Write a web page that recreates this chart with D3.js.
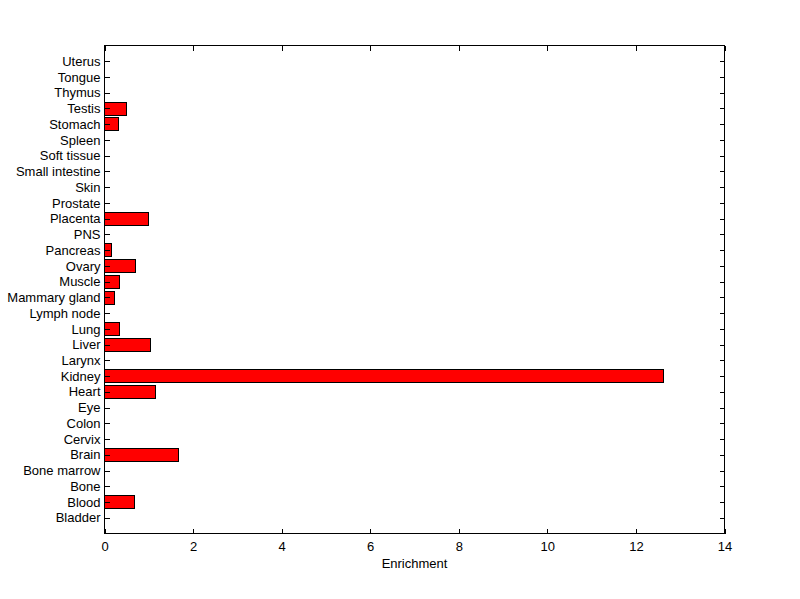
<!DOCTYPE html>
<html>
<head>
<meta charset="utf-8">
<script src="https://cdn.jsdelivr.net/npm/d3@7"></script>
<style>
  body { margin: 0; background: #fff; }
  text { font-family: "Liberation Sans", Arial, sans-serif; font-size: 13px; fill: #000; }
</style>
</head>
<body>
<div id="chart"></div>
<script>
// tissues, bottom to top
const tissues = ["Bladder", "Blood", "Bone", "Bone marrow", "Brain", "Cervix", "Colon", "Eye",
  "Heart", "Kidney", "Larynx", "Liver", "Lung", "Lymph node", "Mammary gland", "Muscle",
  "Ovary", "Pancreas", "PNS", "Placenta", "Prostate", "Skin", "Small intestine",
  "Soft tissue", "Spleen", "Stomach", "Testis", "Thymus", "Tongue", "Uterus"];
const enrichment = [0, 0.68, 0, 0, 1.68, 0, 0, 0,
  1.15, 12.62, 0, 1.04, 0.34, 0, 0.235, 0.34,
  0.71, 0.16, 0, 0.99, 0, 0, 0,
  0, 0, 0.32, 0.50, 0, 0, 0];
const xTicks = [0, 2, 4, 6, 8, 10, 12, 14];

var width = 800, height = 599;
var margin = { top: 45, right: 76, bottom: 66, left: 104 };
var w = width - margin.left - margin.right,
    h = height - margin.top - margin.bottom;

var svg = d3.select("#chart").append("svg")
    .attr("width", width).attr("height", height)
    .attr("shape-rendering", "crispEdges");
var g = svg.append("g")
    .attr("transform", "translate(" + (margin.left + 0.5) + "," + (margin.top + 0.5) + ")");

var x = d3.scaleLinear().domain([0, 14]).range([0, w]);
// MATLAB style: categories at 1..n, axis padded by one each side
var y = d3.scaleLinear().domain([0, tissues.length + 1]).range([h, 0]);
var step = y(0) - y(1);
var barH = step * 0.8;

// bars
g.selectAll("rect.bar")
  .data(tissues)
  .enter()
  .append("rect")
  .attr("class", "bar")
  .attr("x", x(0))
  .attr("y", function(d, i) { return Math.round(y(i + 1) - barH / 2); })
  .attr("width", function(d, i) { return Math.round(x(enrichment[i]) - x(0)); })
  .attr("height", Math.round(barH))
  .style("fill", "#ff0000")
  .style("stroke", "#000")
  .style("stroke-width", 1)
  .style("display", function(d, i) { return enrichment[i] > 0 ? null : "none"; });

// axes
var yIdx = tissues.map(function(d, i) { return i + 1; });
g.append("g")
  .call(d3.axisLeft(y).tickValues(yIdx).tickFormat(function(d) { return tissues[d - 1]; })
    .tickSize(-5).tickPadding(4))
  .call(function(a) { a.select(".domain").remove(); });
g.append("g")
  .attr("transform", "translate(" + w + ",0)")
  .call(d3.axisRight(y).tickValues(yIdx).tickFormat("").tickSize(-5))
  .call(function(a) { a.select(".domain").remove(); });
g.append("g")
  .attr("transform", "translate(0," + h + ")")
  .call(d3.axisBottom(x).tickValues(xTicks).tickFormat(d3.format("d")).tickSize(-5).tickPadding(8))
  .call(function(a) { a.select(".domain").remove(); });
g.append("g")
  .call(d3.axisTop(x).tickValues(xTicks).tickFormat("").tickSize(-5))
  .call(function(a) { a.select(".domain").remove(); });

g.selectAll(".tick text")
  .style("font-family", "'Liberation Sans', Arial, sans-serif")
  .style("font-size", "13px")
  .attr("shape-rendering", null);

// frame
g.append("rect")
  .attr("x", 0).attr("y", 0).attr("width", w).attr("height", h)
  .style("fill", "none").style("stroke", "#000").style("stroke-width", 1);

// axis title
g.append("text")
  .attr("text-anchor", "middle")
  .attr("x", w / 2)
  .attr("y", h + 34)
  .text("Enrichment");
</script>
</body>
</html>
